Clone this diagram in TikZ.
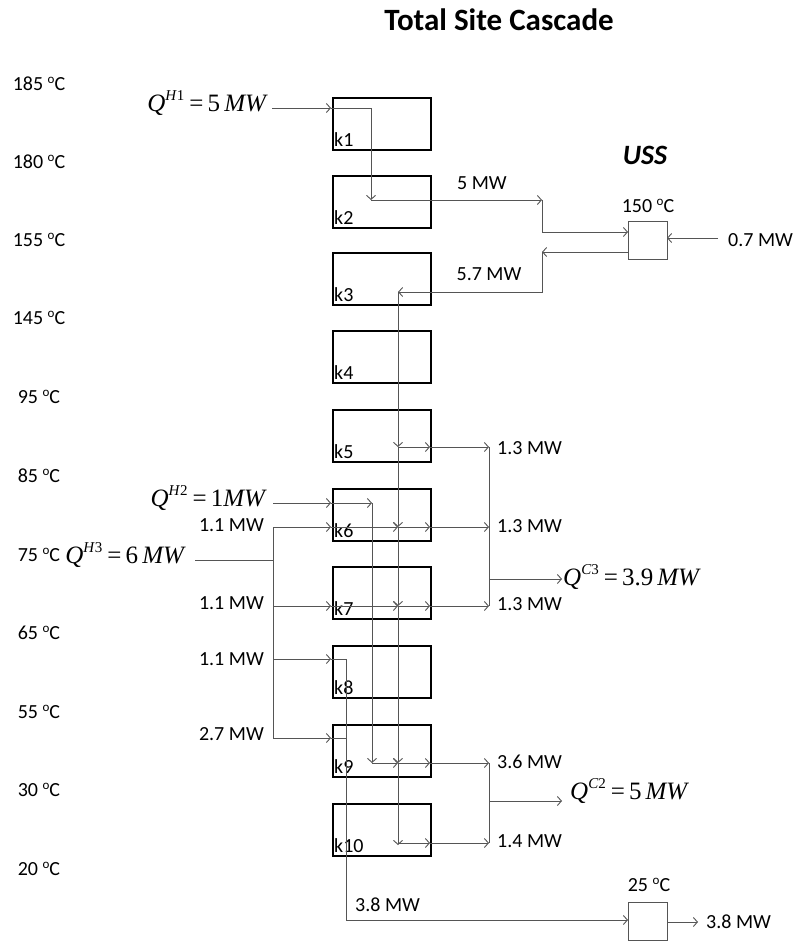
\documentclass[tikz,border=0pt]{standalone}
\usepackage{fontspec}
\setmainfont{Carlito}
\newfontfamily\tnr{Liberation Serif}
\usetikzlibrary{arrows.meta}
\definecolor{linec}{RGB}{85,85,85}
\newcommand\lbfont{\fontsize{20}{24}\selectfont}
\newcommand\eqfont{\tnr\fontsize{25}{28}\selectfont}
\newcommand\supfont{\tnr\fontsize{15}{17}\selectfont}
\newcommand\degc{\raisebox{0.38em}{\fontsize{13}{13}\selectfont o}C}
% Q^{sup} = value unit
\newcommand\qeq[4]{{\eqfont\textit{Q}\raisebox{0.42em}{\supfont\textit{#1}#2}\hspace{5pt}=\hspace{4pt}#3\,\textit{#4}}}
\begin{document}
\begin{tikzpicture}[x=1pt,y=-1pt,
  blk/.style={draw=black, line width=1.8pt, minimum width=98pt, minimum height=52pt, inner sep=0pt, anchor=north west},
  ussbox/.style={draw=linec, line width=0.9pt, minimum width=39pt, minimum height=38pt, inner sep=0pt, anchor=north west},
  flow/.style={draw=linec, line width=0.9pt},
  arr/.style={flow, -{Straight Barb[length=4pt,width=9pt]}},
  lbl/.style={font=\lbfont, inner sep=0pt},
  klbl/.style={font=\lbfont, inner sep=0pt, anchor=base west},
  tlbl/.style={font=\lbfont, inner sep=0pt}
]
\useasboundingbox (0,0) rectangle (795,941);

% title
\node[font=\fontsize{31}{36}\selectfont\bfseries, inner sep=0pt] (title) at (499,20) {Total Site Cascade};
\node[font=\fontsize{28}{32}\selectfont\bfseries\itshape, inner sep=0pt] (usslbl) at (645,155) {USS};

% boxes
\foreach \i/\t in {1/97,2/175,3/252,4/330,5/409,6/488,7/566,8/645,9/724,10/803}{
  \node[blk] (k\i) at (332,\t) {};
  \node[klbl] (kl\i) at ([xshift=2pt,yshift=4pt]k\i.south west) {k\i};
}

% temperature labels
\foreach \n/\tt/\y in {t1/185/84,t2/180/162,t3/155/240,t4/145/318,t5/95/397,t6/85/476,t7/75/555,t8/65/633,t9/55/712,t10/30/790,t11/20/869}{
  \node[tlbl] (\n) at (39,\y) {\tt\ \degc};
}

% USS boxes
\node[ussbox] (uss1) at (628,221) {};
\node[ussbox, minimum height=38pt] (uss2) at (628,902) {};
\node[lbl] (l150) at (648,206) {150 \degc};
\node[lbl] (l25) at (649,885) {25 \degc};

% coordinates
\coordinate (a0) at (272,108);
\coordinate (a1) at (331,108);
\coordinate (a2) at (371,108);
\coordinate (a3) at (371,200);
\coordinate (a4) at (542,200);
\coordinate (a5) at (542,232);
\coordinate (a6) at (628,232);
\coordinate (b0) at (718,238);
\coordinate (b1) at (667,238);
\coordinate (c0) at (628,252);
\coordinate (c1) at (542,252);
\coordinate (c2) at (542,292);
\coordinate (c3) at (398,292);
\coordinate (v5) at (398,447);
\coordinate (v6) at (398,527);
\coordinate (v7) at (398,606);
\coordinate (v9) at (398,763);
\coordinate (v10) at (398,843);
\coordinate (r5) at (430,447);
\coordinate (r6) at (430,527);
\coordinate (r7) at (430,606);
\coordinate (r9) at (430,763);
\coordinate (r10) at (430,843);
\coordinate (o5) at (489,447);
\coordinate (o6) at (489,527);
\coordinate (o7) at (489,606);
\coordinate (o9) at (489,763);
\coordinate (o10) at (489,843);
\coordinate (oc3) at (489,579);
\coordinate (oc3e) at (562,579);
\coordinate (oc2) at (489,801);
\coordinate (oc2e) at (562,801);
\coordinate (h2a) at (273,503);
\coordinate (h2b) at (331,503);
\coordinate (h2c) at (372,503);
\coordinate (h2d) at (372,763);
\coordinate (h3a) at (195,560);
\coordinate (h3b) at (273,560);
\coordinate (d6) at (273,527);
\coordinate (d7) at (273,606);
\coordinate (d8) at (273,659);
\coordinate (d9) at (273,738);
\coordinate (e6) at (331,527);
\coordinate (e7) at (331,606);
\coordinate (e8) at (331,659);
\coordinate (e9) at (331,738);
\coordinate (f8) at (346,659);
\coordinate (f9) at (346,738);
\coordinate (f10) at (346,920);
\coordinate (g0) at (628,920);
\coordinate (g1) at (667,922);
\coordinate (g2) at (698,922);

% QH1 path
\draw[arr] (a0) -- (a1);
\draw[arr] (a1) -- (a2) -- (a3);
\draw[arr] (a3) -- (a4);
\draw[arr] (a4) -- (a5) -- (a6);
\draw[arr] (b0) -- (b1);
\draw[arr] (c0) -- (c1);
\draw[arr] (c1) -- (c2) -- (c3);

% main vertical
\draw[arr] (c3) -- (v5);
\draw[arr] (v5) -- (v6);
\draw[arr] (v6) -- (v7);
\draw[arr] (v7) -- (v9);
\draw[arr] (v9) -- ([yshift=-2pt]v10);

% horizontal outputs
\draw[arr] (v5) -- (r5);
\draw[arr] (r5) -- (o5);
\draw[arr] (d6) -- (e6);
\draw[arr] (e6) -- (v6);
\draw[arr] (v6) -- (r6);
\draw[arr] (r6) -- (o6);
\draw[arr] (d7) -- (e7);
\draw[arr] (e7) -- (v7);
\draw[arr] (v7) -- (r7);
\draw[arr] (r7) -- (o7);
\draw[arr] (h2d) -- (v9);
\draw[arr] (v9) -- (r9);
\draw[arr] (r9) -- (o9);
\draw[arr] (v10) -- (r10);
\draw[arr] (r10) -- (o10);

% QH2
\draw[arr] (h2a) -- (h2b);
\draw[arr] (h2b) -- (h2c);
\draw[arr] (h2c) -- (h2d);

% QH3 distribution
\draw[flow] (h3a) -- (h3b);
\draw[flow] (d6) -- (d9);
\draw[arr] (d8) -- (e8);
\draw[arr] (d9) -- (e9);
\draw[flow] (e8) -- (f8) -- (f10);
\draw[flow] (e9) -- (f9);
\draw[arr] (f10) -- (g0);
\draw[arr] (g1) -- (g2);

% collectors
\draw[flow] (o5) -- (o7);
\draw[arr] (oc3) -- (oc3e);
\draw[flow] (o9) -- (o10);
\draw[arr] (oc2) -- (oc2e);

% labels
\node[lbl] (l5) at (482,183) {5 MW};
\node[lbl] (l57) at (489,274) {5.7 MW};
\node[lbl, anchor=west] (l07) at (728,240) {0.7 MW};
\node[lbl, anchor=west] (l13a) at (497,448) {1.3 MW};
\node[lbl, anchor=west] (l13b) at (497,526) {1.3 MW};
\node[lbl, anchor=west] (l13c) at (497,604) {1.3 MW};
\node[lbl, anchor=west] (l36) at (497,762) {3.6 MW};
\node[lbl, anchor=west] (l14) at (497,841) {1.4 MW};
\node[lbl, anchor=east] (l11a) at (264,525) {1.1 MW};
\node[lbl, anchor=east] (l11b) at (264,603) {1.1 MW};
\node[lbl, anchor=east] (l11c) at (264,659) {1.1 MW};
\node[lbl, anchor=east] (l27) at (264,734) {2.7 MW};
\node[lbl, anchor=west] (l38a) at (355,905) {3.8 MW};
\node[lbl, anchor=west] (l38b) at (706,922) {3.8 MW};

\node[inner sep=0pt, anchor=east] (qh1) at (268,103) {\qeq{H}{1}{5}{MW}};
\node[inner sep=0pt, anchor=east] (qh2) at (267,498) {\qeq{H}{2}{1\!}{MW}};
\node[inner sep=0pt, anchor=east] (qh3) at (186,555) {\qeq{H}{3}{6}{MW}};
\node[inner sep=0pt, anchor=west] (qc3) at (563,577) {\qeq{C}{3}{3.9}{MW}};
\node[inner sep=0pt, anchor=west] (qc2) at (570,791) {\qeq{C}{2}{5}{MW}};
\end{tikzpicture}
\end{document}
